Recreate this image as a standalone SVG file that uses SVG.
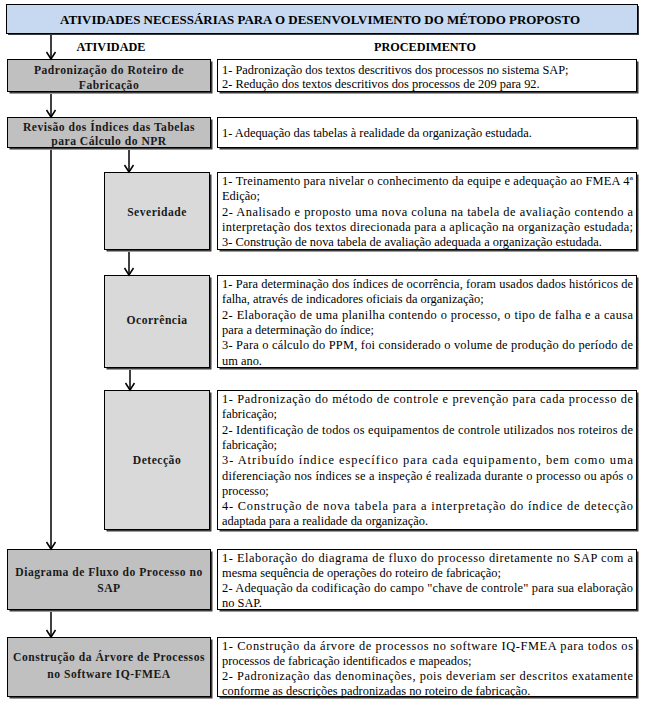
<svg xmlns="http://www.w3.org/2000/svg" width="645" height="705" viewBox="0 0 645 705">
<style>
.shadow{fill:#3a3a3a}
.box{stroke:#000;stroke-width:1}
.dark{fill:#c0c0c0}
.light{fill:#d9d9d9}
.white{fill:#fff}
text{font-family:'Liberation Serif','DejaVu Serif',serif}
.lbl{font-weight:bold;font-size:11.6px;letter-spacing:0.5px;fill:#1a1a1a;text-anchor:middle}
.hdr{font-weight:bold;font-size:12.2px;fill:#000;text-anchor:middle}
.txt{font-size:12.4px;fill:#000}
.conn{stroke:#000;stroke-width:1.5;fill:none}
</style>
<defs>
<marker id="arr" markerWidth="12" markerHeight="12" refX="10" refY="6" orient="auto" markerUnits="userSpaceOnUse" viewBox="0 0 12 12" overflow="visible">
<path d="M3,1.5 L10,6 L3,10.5" fill="none" stroke="#000" stroke-width="1.5"/>
</marker>
</defs>

<g id="title">
<rect class="shadow" x="8" y="6" width="631" height="29"/>
<rect class="box" x="6.5" y="4.5" width="631" height="29" fill="#c6d9f1"/>
<text class="hdr" x="320" y="23.5" textLength="520" lengthAdjust="spacingAndGlyphs">ATIVIDADES NECESSÁRIAS PARA O DESENVOLVIMENTO DO MÉTODO PROPOSTO</text>
</g>

<g id="headers">
<text class="hdr" x="111" y="51">ATIVIDADE</text>
<text class="hdr" x="425" y="51">PROCEDIMENTO</text>
</g>

<g id="node-padronizacao">
<rect class="shadow" x="9.5" y="61.5" width="203" height="32"/>
<rect class="box dark" x="7.5" y="59.5" width="203" height="32"/>
<text class="lbl" x="109" y="74">Padronização do Roteiro de</text>
<text class="lbl" x="109" y="89">Fabricação</text>
</g>
<g id="proc-padronizacao">
<rect class="shadow" x="219.5" y="61.5" width="419" height="32"/>
<rect class="box white" x="217.5" y="59.5" width="419" height="32"/>
<text class="txt" x="222" y="73.5">1- Padronização dos textos descritivos dos processos no sistema SAP;</text>
<text class="txt" x="222" y="88">2- Redução dos textos descritivos dos processos de 209 para 92.</text>
</g>

<g id="node-revisao">
<rect class="shadow" x="9.5" y="119.5" width="203" height="30"/>
<rect class="box dark" x="7.5" y="117.5" width="203" height="30"/>
<text class="lbl" x="109" y="131">Revisão dos Índices das Tabelas</text>
<text class="lbl" x="109" y="145">para Cálculo do NPR</text>
</g>
<g id="proc-revisao">
<rect class="shadow" x="219.5" y="119.5" width="419" height="30"/>
<rect class="box white" x="217.5" y="117.5" width="419" height="30"/>
<text class="txt" x="222" y="137">1- Adequação das tabelas à realidade da organização estudada.</text>
</g>

<g id="node-severidade">
<rect class="shadow" x="106.5" y="174.5" width="105" height="77"/>
<rect class="box light" x="104.5" y="172.5" width="105" height="77"/>
<text class="lbl" x="157" y="216">Severidade</text>
</g>
<g id="proc-severidade">
<rect class="shadow" x="219.5" y="174.5" width="419" height="77"/>
<rect class="box white" x="217.5" y="172.5" width="419" height="77"/>
<text class="txt" x="222" y="185" textLength="411" lengthAdjust="spacing">1- Treinamento para nivelar o conhecimento da equipe e adequação ao FMEA 4ª</text>
<text class="txt" x="222" y="200.3">Edição;</text>
<text class="txt" x="222" y="215.6" textLength="411" lengthAdjust="spacing">2- Analisado e proposto uma nova coluna na tabela de avaliação contendo a</text>
<text class="txt" x="222" y="230.9" textLength="411" lengthAdjust="spacing">interpretação dos textos direcionada para a aplicação na organização estudada;</text>
<text class="txt" x="222" y="246.2">3- Construção de nova tabela de avaliação adequada a organização estudada.</text>
</g>

<g id="node-ocorrencia">
<rect class="shadow" x="106.5" y="277.5" width="105" height="92"/>
<rect class="box light" x="104.5" y="275.5" width="105" height="92"/>
<text class="lbl" x="157" y="324">Ocorrência</text>
</g>
<g id="proc-ocorrencia">
<rect class="shadow" x="219.5" y="277.5" width="419" height="92"/>
<rect class="box white" x="217.5" y="275.5" width="419" height="92"/>
<text class="txt" x="222" y="288" textLength="411" lengthAdjust="spacing">1- Para determinação dos índices de ocorrência, foram usados dados históricos de</text>
<text class="txt" x="222" y="303.3">falha, através de indicadores oficiais da organização;</text>
<text class="txt" x="222" y="318.6" textLength="411" lengthAdjust="spacing">2- Elaboração de uma planilha contendo o processo, o tipo de falha  e a causa</text>
<text class="txt" x="222" y="333.9">para a determinação do índice;</text>
<text class="txt" x="222" y="349.2" textLength="411" lengthAdjust="spacing">3- Para o cálculo do PPM, foi considerado o volume de produção do período de</text>
<text class="txt" x="222" y="364.5">um ano.</text>
</g>

<g id="node-deteccao">
<rect class="shadow" x="106.5" y="392.5" width="105" height="139"/>
<rect class="box light" x="104.5" y="390.5" width="105" height="139"/>
<text class="lbl" x="157" y="464">Detecção</text>
</g>
<g id="proc-deteccao">
<rect class="shadow" x="219.5" y="392.5" width="419" height="139"/>
<rect class="box white" x="217.5" y="390.5" width="419" height="139"/>
<text class="txt" x="222" y="403" textLength="411" lengthAdjust="spacing">1- Padronização do método de controle e prevenção para cada processo de</text>
<text class="txt" x="222" y="418.3">fabricação;</text>
<text class="txt" x="222" y="433.6" textLength="411" lengthAdjust="spacing">2- Identificação de todos os equipamentos de controle utilizados nos roteiros de</text>
<text class="txt" x="222" y="448.9">fabricação;</text>
<text class="txt" x="222" y="464.2" textLength="411" lengthAdjust="spacing">3- Atribuído índice específico para cada equipamento, bem como uma</text>
<text class="txt" x="222" y="479.5" textLength="411" lengthAdjust="spacing">diferenciação nos índices se a inspeção é realizada durante o processo ou após o</text>
<text class="txt" x="222" y="494.8">processo;</text>
<text class="txt" x="222" y="510.1" textLength="411" lengthAdjust="spacing">4- Construção de nova tabela para a interpretação do índice de detecção</text>
<text class="txt" x="222" y="525.4">adaptada para a realidade da organização.</text>
</g>

<g id="node-diagrama">
<rect class="shadow" x="9.5" y="551.5" width="203" height="60"/>
<rect class="box dark" x="7.5" y="549.5" width="203" height="60"/>
<text class="lbl" x="109" y="576">Diagrama de Fluxo do Processo no</text>
<text class="lbl" x="109" y="592">SAP</text>
</g>
<g id="proc-diagrama">
<rect class="shadow" x="219.5" y="551.5" width="419" height="60"/>
<rect class="box white" x="217.5" y="549.5" width="419" height="60"/>
<text class="txt" x="222" y="561.5" textLength="411" lengthAdjust="spacing">1- Elaboração do diagrama de fluxo do processo diretamente no SAP com a</text>
<text class="txt" x="222" y="576.8">mesma sequência de operações do roteiro de fabricação;</text>
<text class="txt" x="222" y="592.1" textLength="411" lengthAdjust="spacing">2- Adequação da codificação do campo "chave de controle" para sua elaboração</text>
<text class="txt" x="222" y="607.4">no SAP.</text>
</g>

<g id="node-construcao">
<rect class="shadow" x="9.5" y="639.5" width="203" height="59"/>
<rect class="box dark" x="7.5" y="637.5" width="203" height="59"/>
<text class="lbl" x="109" y="661">Construção da Árvore de Processos</text>
<text class="lbl" x="109" y="678">no Software IQ-FMEA</text>
</g>
<g id="proc-construcao">
<rect class="shadow" x="219.5" y="639.5" width="419" height="59"/>
<rect class="box white" x="217.5" y="637.5" width="419" height="59"/>
<text class="txt" x="222" y="649.5" textLength="411" lengthAdjust="spacing">1- Construção da árvore de processos no software IQ-FMEA para todos os</text>
<text class="txt" x="222" y="664.8">processos de fabricação identificados e mapeados;</text>
<text class="txt" x="222" y="680.1" textLength="411" lengthAdjust="spacing">2- Padronização das denominações, pois deveriam ser descritos exatamente</text>
<text class="txt" x="222" y="695.4">conforme as descrições padronizadas no roteiro de fabricação.</text>
</g>

<g id="connectors">
<line class="conn" x1="51" y1="35" x2="51" y2="59" marker-end="url(#arr)"/>
<line class="conn" x1="51" y1="94" x2="51" y2="117" marker-end="url(#arr)"/>
<line class="conn" x1="51" y1="150" x2="51" y2="549" marker-end="url(#arr)"/>
<line class="conn" x1="129" y1="150" x2="129" y2="172" marker-end="url(#arr)"/>
<line class="conn" x1="129" y1="252" x2="129" y2="275" marker-end="url(#arr)"/>
<line class="conn" x1="130" y1="370" x2="130" y2="390" marker-end="url(#arr)"/>
<line class="conn" x1="51" y1="612" x2="51" y2="637" marker-end="url(#arr)"/>
</g>
</svg>
